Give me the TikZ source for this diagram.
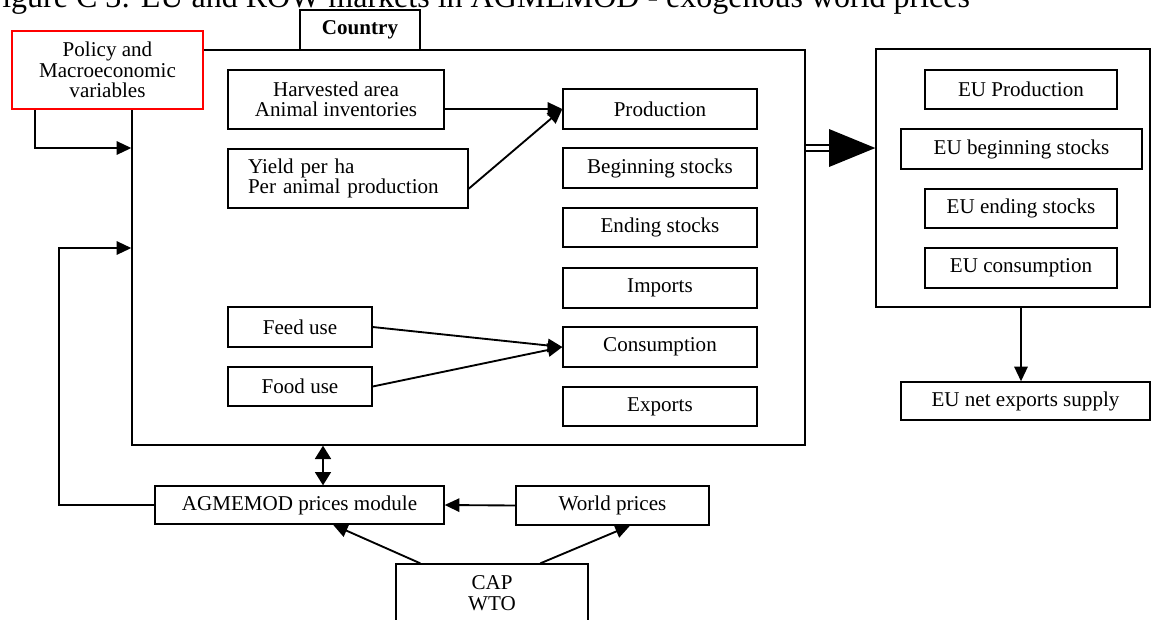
\documentclass[tikz,border=0pt]{standalone}
\usepackage{fontspec}
\setmainfont{Liberation Serif}
\usetikzlibrary{arrows.meta,calc}
\newcommand\mybox[7][]{%
  \pgfmathsetmacro\bcx{(#3+#5)/2}\pgfmathsetmacro\bcy{(#4+#6)/2}%
  \pgfmathsetmacro\bbw{(#5-#3)*0.75}\pgfmathsetmacro\bbh{(#6-#4)*0.75}%
  \node[box,minimum width=\bbw pt,minimum height=\bbh pt,#1] (#2) at (\bcx,\bcy) {#7};}
\begin{document}
\begin{tikzpicture}[x=0.75pt,y=-0.75pt,
  box/.style={draw,fill=white,line width=1pt,inner sep=0pt,align=center,font=\fontsize{15.8}{15.4}\selectfont},
  conn/.style={line width=1.4pt},
  arr/.style={conn,-{Triangle[length=11pt,width=10pt]}},
  darr/.style={conn,{Triangle[length=10pt,width=12pt]}-{Triangle[length=10pt,width=12pt]}},
  ]
\useasboundingbox (0,0) rectangle (1153,619);
\clip (0,0) rectangle (1153,619);
\node[anchor=base west,inner sep=0pt,font=\fontsize{24}{28}\selectfont] (title) at (2,7) {igure C 3: EU and ROW markets in AGMEMOD - exogenous world prices};

% country block
\mybox{country}{132}{50}{805}{445}{}
\mybox[font=\fontsize{15.8}{15.4}\selectfont\bfseries]{tab}{300}{10}{420}{50}{Country}
\mybox[draw=red,line width=1.2pt]{policy}{12}{31}{203}{109}{Policy and\\Macroeconomic\\variables}
\mybox{harv}{228}{70}{444}{129}{Harvested area\\Animal inventories}
\mybox[align=left,text width=150pt]{yield}{228}{149}{468}{208}{Yield per ha\\Per animal production}
\mybox{feed}{228}{307}{372}{347}{Feed use}
\mybox{food}{228}{367}{372}{406}{Food use}
\mybox{prod}{563}{89}{757}{129}{Production}
\mybox{begin}{563}{148}{757}{188}{Beginning stocks}
\mybox{ending}{563}{208}{757}{247}{Ending stocks}
\mybox{imports}{563}{268}{757}{308}{Imports}
\mybox{cons}{563}{327}{757}{367}{Consumption}
\mybox{exports}{563}{387}{757}{426}{Exports}

% EU block
\mybox{eu}{876}{49}{1150}{307}{}
\mybox{eup}{925}{70}{1117}{109}{EU Production}
\mybox{eub}{901}{129}{1142}{169}{EU beginning stocks}
\mybox{eue}{925}{189}{1117}{228}{EU ending stocks}
\mybox{euc}{925}{248}{1117}{288}{EU consumption}
\mybox{net}{901}{382}{1150}{420}{EU net exports supply}

% bottom
\mybox{agm}{155}{486}{444}{524}{AGMEMOD prices module}
\mybox{world}{516}{486}{709}{525}{World prices}
\mybox{cap}{396}{564}{588}{622}{CAP\\WTO}

% connectors
\draw[arr] (policy.south -| 35,0) |- (country.west |- 0,148);
\coordinate (lcorner) at (59,248);
\draw[arr] (agm.west) -| (lcorner) -- (country.west |- lcorner);
\draw[arr] (harv.east |- prod.west) -- (prod.west);
\draw[arr] ($(yield.south east)!0.33!(yield.north east)$) -- (prod.west);
\draw[arr] (feed.east) -- (cons.west);
\draw[arr] (food.east) -- (cons.west);
\draw[darr] (country.south -| 323,0) -- (agm.north -| 323,0);
\draw[arr] (world.west) -- (agm.east);
\draw[arr] ($(cap.north west)+(25,0)$) -- (agm.south -| 333,0);
\draw[arr] ($(cap.north west)+(145,0)$) -- (world.south -| 630,0);
\draw[arr] (eu.south -| 1021,0) -- (net.north -| 1021,0);

% big transfer arrow
\coordinate (shaftend) at (829,148);
\draw[line width=1.6pt,double=white,double distance=3.5pt] (country.east |- shaftend) -- (shaftend);
\fill ($(shaftend)+(0,-19)$) -- (eu.west |- shaftend) -- ($(shaftend)+(0,19)$) -- cycle;
\end{tikzpicture}
\end{document}
